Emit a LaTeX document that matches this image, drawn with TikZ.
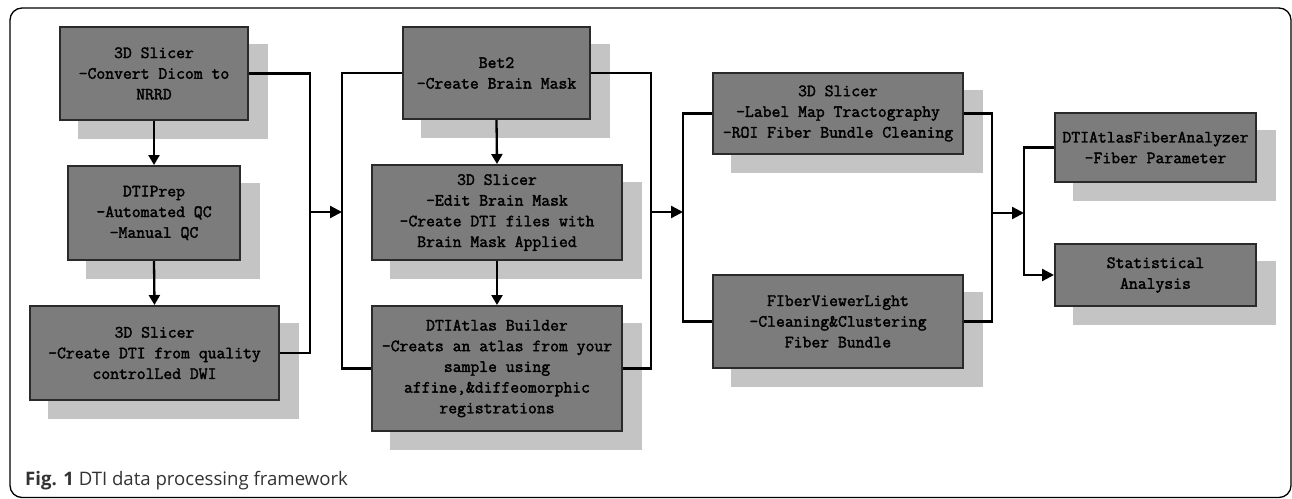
\documentclass[tikz,border=0pt]{standalone}
\usepackage{fontspec}
\newfontfamily\capfont{Open Sans}
\newfontfamily\boxfont{Latin Modern Mono}[FakeBold=2]
\usetikzlibrary{arrows.meta,backgrounds}
\definecolor{boxfill}{HTML}{7C7C7C}
\definecolor{shadowgray}{HTML}{C4C4C4}
\definecolor{boxline}{HTML}{2A2A2A}
\definecolor{captext}{HTML}{333333}
\tikzset{
  procbox/.style={draw=boxline, fill=boxfill, line width=2pt, inner sep=0pt,
    align=center, text=black, font=\boxfont\fontsize{17.2}{20.7}\selectfont},
  conn/.style={line width=2.3pt, black},
  arr/.style={conn, -{Triangle[length=12pt,width=12pt]}},
  darr/.style={conn, -{Triangle[length=10pt,width=11pt]}},
}
\newcommand{\shadowof}[1]{%
  \fill[shadowgray] ([shift={(19,18)}]#1.south west) rectangle ([shift={(19,18)}]#1.north east);}
\begin{document}
\begin{tikzpicture}[x=1pt,y=-1pt]
\useasboundingbox (0,0) rectangle (1292,498);
\draw[line width=1.3pt, rounded corners=12pt] (10,8) rectangle (1291,497.5);

% boxes
\node[procbox, minimum width=188pt, minimum height=93pt] (b1) at (154,73.5) {3D Slicer\\-Convert Dicom to\\NRRD};
\node[procbox, minimum width=172pt, minimum height=94pt] (b2) at (154,213) {DTIPrep\\-Automated QC\\-Manual QC};
\node[procbox, minimum width=249pt, minimum height=94pt] (b3) at (154.5,353) {3D Slicer\\-Create DTI from quality\\controlLed DWI};
\node[procbox, minimum width=187pt, minimum height=92pt] (b4) at (496.5,73) {Bet2\\-Create Brain Mask};
\node[procbox, minimum width=250pt, minimum height=95pt] (b5) at (497,212.5) {3D Slicer\\-Edit Brain Mask\\-Create DTI files with\\Brain Mask Applied};
\node[procbox, minimum width=250pt, minimum height=125pt] (b6) at (497,368.5) {DTIAtlas Builder\\-Creats an atlas from your\\sample using\\affine,\&diffeomorphic\\registrations};
\node[procbox, minimum width=250pt, minimum height=81pt] (b7) at (838,113.5) {3D Slicer\\-Label Map Tractography\\-ROI Fiber Bundle Cleaning};
\node[procbox, minimum width=250pt, minimum height=93pt] (b8) at (838,321.5) {FIberViewerLight\\-Cleaning\&Clustering\\Fiber Bundle};
\node[procbox, minimum width=201pt, minimum height=69pt] (b9) at (1155.5,147.5) {DTIAtlasFiberAnalyzer\\-Fiber Parameter};
\node[procbox, minimum width=201pt, minimum height=62pt] (b10) at (1155.5,275) {Statistical\\Analysis};

\begin{scope}[on background layer]
\shadowof{b1}\shadowof{b2}\shadowof{b3}\shadowof{b4}\shadowof{b5}
\shadowof{b6}\shadowof{b7}\shadowof{b8}\shadowof{b9}\shadowof{b10}
\end{scope}

% junction points
\coordinate (j1) at (310,212);
\coordinate (j2) at (342,212);
\coordinate (j3) at (651,212);
\coordinate (j4) at (683,212);
\coordinate (j5) at (992,213);
\coordinate (j6) at (1024,213);

% vertical arrows
\draw[darr] (b1.south) -- (b2.north);
\draw[darr] (b2.south) -- (b3.north);
\draw[darr] (b4.south) -- (b5.north);
\draw[darr] (b5.south) -- (b6.north);

% merges and splits
\draw[conn] (b1.east) -| (j1) |- (b3.east);
\draw[arr] (j1) -- (j2);
\draw[conn] (b4.west) -| (j2) |- (b6.west);
\draw[conn] (b4.east) -| (j3) |- (b6.east);
\draw[arr] (j3) -- (j4);
\draw[conn] (b7.west) -| (j4) |- (b8.west);
\draw[conn] (b7.east) -| (j5) |- (b8.east);
\draw[arr] (j5) -- (j6);
\draw[conn] (j6) |- (b9.west);
\draw[arr] (j6) |- (b10.west);

% caption
\node[anchor=base west, inner sep=0pt, text=captext, font=\capfont\fontsize{18.6}{22}\selectfont] (cap) at (25,485) {\textbf{Fig. 1} DTI data processing framework};
\end{tikzpicture}
\end{document}
